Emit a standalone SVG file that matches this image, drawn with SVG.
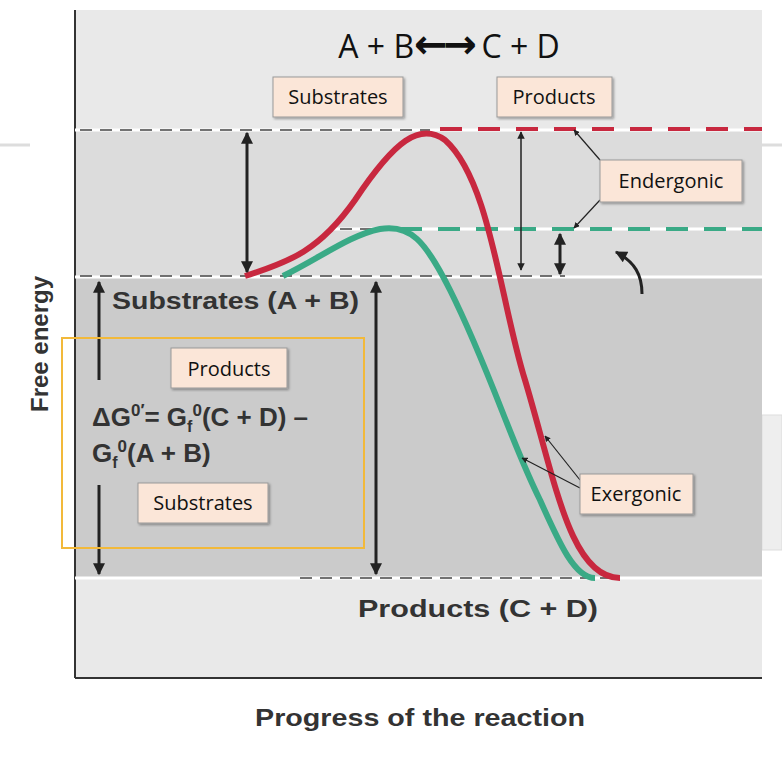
<svg xmlns="http://www.w3.org/2000/svg" width="782" height="760" viewBox="0 0 782 760">
<defs>
<marker id="ah" viewBox="0 0 10 10" refX="9" refY="5" markerWidth="5" markerHeight="5" orient="auto-start-reverse"><path d="M0,0 L10,5 L0,10 z" fill="#222"/></marker>
<marker id="ahs" viewBox="0 0 10 10" refX="9" refY="5" markerWidth="4.5" markerHeight="4" orient="auto-start-reverse"><path d="M0,0 L10,5 L0,10 z" fill="#222"/></marker>
<filter id="sh"><feDropShadow dx="1.5" dy="1.5" stdDeviation="1" flood-opacity="0.35"/></filter>
</defs>
<style>
.lbl{fill:#fbe6d8;stroke:#999;stroke-width:1;filter:url(#sh)}
.t{font-family:"Open Sans","Liberation Sans",sans-serif;font-size:20px;fill:#111;text-anchor:middle}
.b{font-family:"Liberation Sans",Arial,sans-serif;font-weight:bold;fill:#333}
.dash{stroke:#444;stroke-width:1.5;stroke-dasharray:12 8;fill:none}
.ar{stroke:#222;stroke-width:3;fill:none}
</style>
<rect width="782" height="760" fill="#fff"/>
<line x1="0" y1="145" x2="30" y2="145" stroke="#ddd" stroke-width="3"/>
<line x1="762" y1="145" x2="782" y2="145" stroke="#ddd" stroke-width="3"/>
<rect x="762" y="415" width="20" height="135" fill="#eee" stroke="#ddd"/>
<rect x="75" y="10" width="687" height="668" fill="#e9e9e9"/>
<rect x="75" y="130" width="687" height="147" fill="#dcdcdc"/>
<rect x="75" y="277" width="687" height="301" fill="#cbcbcb"/>
<line x1="75" y1="10" x2="75" y2="678" stroke="#333" stroke-width="2"/>
<line x1="75" y1="678" x2="762" y2="678" stroke="#333" stroke-width="2"/>
<line x1="75" y1="277" x2="762" y2="277" stroke="#fff" stroke-width="3"/>
<line x1="75" y1="578" x2="762" y2="578" stroke="#fff" stroke-width="3"/>
<line x1="75" y1="130" x2="762" y2="130" stroke="#fff" stroke-width="3"/>
<line x1="330" y1="229" x2="762" y2="229" stroke="#fff" stroke-width="3"/>
<g id="connectors">
<line class="dash" x1="80" y1="130" x2="430" y2="130"/>
<line class="dash" x1="80" y1="276" x2="565" y2="276"/>
<line class="dash" x1="340" y1="229" x2="400" y2="229"/>
<line class="dash" x1="300" y1="578" x2="620" y2="578"/>
<line x1="440" y1="129" x2="762" y2="129" stroke="#c8283f" stroke-width="4" stroke-dasharray="22 16"/>
<line x1="400" y1="229" x2="762" y2="229" stroke="#3aaa86" stroke-width="4" stroke-dasharray="22 16"/>
<path d="M245,276 C290,262 320,250 355,200 C395,140 420,122 445,140 C490,180 500,300 525,380 C555,480 570,578 620,578" stroke="#c8283f" stroke-width="6" fill="none"/>
<path d="M283,276 C320,258 350,235 380,229 C410,224 425,240 450,290 C490,370 510,440 540,500 C560,545 575,578 595,578" stroke="#3aaa86" stroke-width="6" fill="none"/>
<line class="ar" x1="247" y1="133" x2="247" y2="272" marker-start="url(#ahs)" marker-end="url(#ahs)"/>
<line stroke="#222" stroke-width="1.5" x1="521" y1="132" x2="521" y2="270" marker-start="url(#ah)" marker-end="url(#ah)"/>
<line class="ar" x1="560" y1="234" x2="560" y2="274" marker-start="url(#ahs)" marker-end="url(#ahs)"/>
<path d="M642,294 C642,275 635,262 616,252" class="ar" marker-end="url(#ahs)"/>
<line class="ar" x1="99" y1="380" x2="99" y2="282" marker-end="url(#ahs)"/>
<line class="ar" x1="99" y1="485" x2="99" y2="574" marker-end="url(#ahs)"/>
<line class="ar" x1="376" y1="282" x2="376" y2="574" marker-start="url(#ahs)" marker-end="url(#ahs)"/>
<line stroke="#222" stroke-width="1.2" x1="600" y1="160" x2="574" y2="130" marker-end="url(#ah)"/>
<line stroke="#222" stroke-width="1.2" x1="600" y1="200" x2="574" y2="228" marker-end="url(#ah)"/>
<line stroke="#222" stroke-width="1.2" x1="580" y1="480" x2="545" y2="436" marker-end="url(#ah)"/>
<line stroke="#222" stroke-width="1.2" x1="580" y1="488" x2="522" y2="458" marker-end="url(#ah)"/>
</g>
<text x="449" y="58" class="t" style="font-size:32px">A + B<tspan font-family="DejaVu Sans" font-weight="bold" font-size="40" letter-spacing="-4">←→</tspan> C + D</text>
<g id="substrates-top"><rect class="lbl" x="273" y="77" width="130" height="40"/><text class="t" x="338" y="104">Substrates</text></g>
<g id="products-top"><rect class="lbl" x="497" y="77" width="115" height="40"/><text class="t" x="554" y="104">Products</text></g>
<g id="endergonic"><rect class="lbl" x="600" y="160" width="142" height="42"/><text class="t" x="671" y="188">Endergonic</text></g>
<g id="exergonic"><rect class="lbl" x="580" y="474" width="113" height="40"/><text class="t" x="636" y="501">Exergonic</text></g>
<text class="b" x="112" y="309" font-size="23" textLength="247" lengthAdjust="spacingAndGlyphs">Substrates (A + B)</text>
<text class="b" x="358" y="617" font-size="23" textLength="240" lengthAdjust="spacingAndGlyphs">Products (C + D)</text>
<text class="b" x="255" y="726" font-size="24" textLength="330" lengthAdjust="spacingAndGlyphs">Progress of the reaction</text>
<text class="b" x="48" y="344" font-size="24" text-anchor="middle" transform="rotate(-90 48 344)">Free energy</text>
<rect x="62" y="338" width="302" height="210" fill="none" stroke="#f2b93a" stroke-width="2"/>
<g id="products-inner"><rect class="lbl" x="171" y="348" width="116" height="40"/><text class="t" x="229" y="376">Products</text></g>
<g id="substrates-inner"><rect class="lbl" x="138" y="483" width="130" height="40"/><text class="t" x="203" y="510">Substrates</text></g>
<text class="b" x="92" y="426" font-size="26">ΔG<tspan dy="-10" font-size="17">0′</tspan><tspan dy="10">= G</tspan><tspan dy="6" font-size="16">f</tspan><tspan dy="-16" font-size="17">0</tspan><tspan dy="10">(C + D) –</tspan></text>
<text class="b" x="92" y="462" font-size="26">G<tspan dy="6" font-size="16">f</tspan><tspan dy="-16" font-size="17">0</tspan><tspan dy="10">(A + B)</tspan></text>
</svg>
